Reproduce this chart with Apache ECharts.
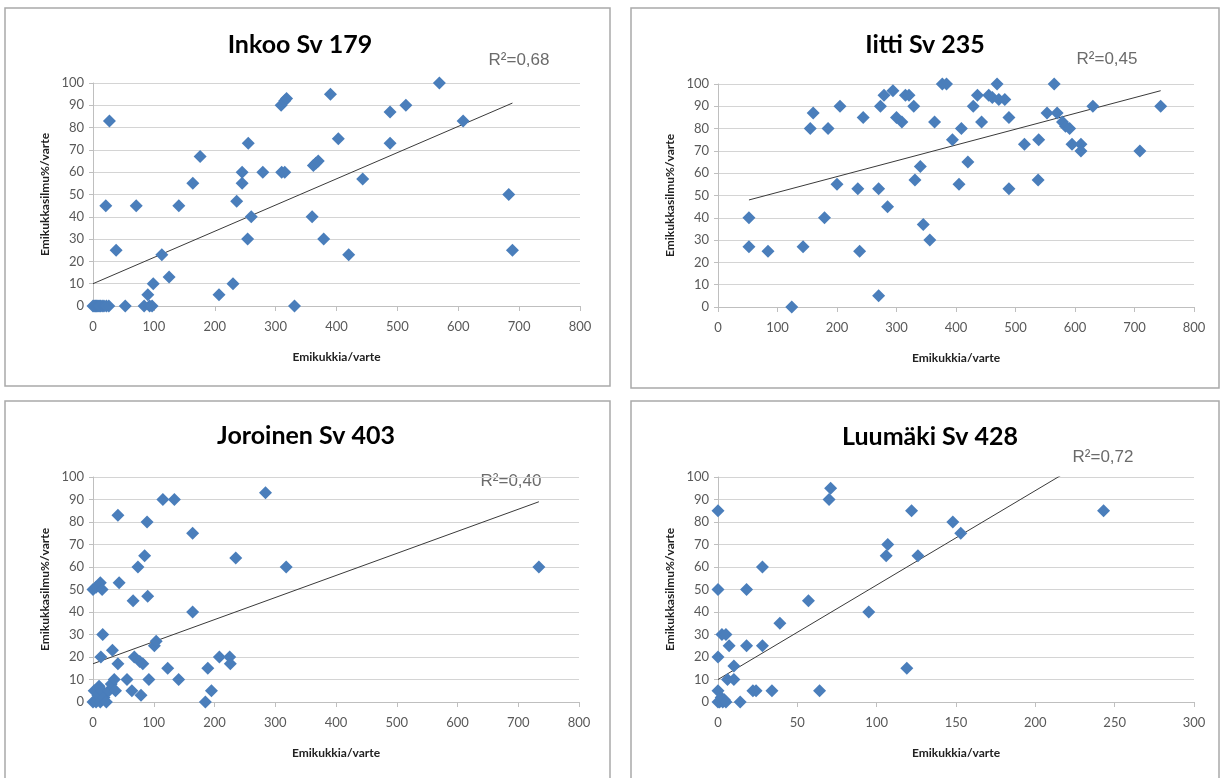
<!DOCTYPE html>
<html>
<head>
<meta charset="utf-8">
<script src="https://cdn.jsdelivr.net/npm/echarts@6/dist/echarts.min.js"></script>
<style>
  html, body { margin: 0; padding: 0; background: #fff; }
  #main { width: 1221px; height: 778px; }
</style>
</head>
<body>
<div id="main"></div>
<script>
var titles = ['Inkoo Sv 179', 'Iitti Sv 235', 'Joroinen Sv 403', 'Luumäki Sv 428']
var r2Labels = ['R²=0,68', 'R²=0,45', 'R²=0,40', 'R²=0,72']
var xName = 'Emikukkia/varte'
var yName = 'Emikukkasilmu%/varte'
var xMax = [800, 800, 800, 300]
var xStep = [100, 100, 100, 50]

// Inkoo Sv 179
var inkooPoints = [
  [0, 0], [2, 0], [4, 0], [6, 0], [8, 0], [10, 0], [12, 0], [15, 0], [18, 0], [22, 0], [26, 0],
  [21, 45], [27, 83], [38, 25], [53, 0], [71, 45], [84, 0], [90, 5], [93, 0], [97, 0], [99, 10],
  [113, 23], [125, 13], [141, 45], [164, 55], [176, 67], [207, 5], [230, 10], [236, 47],
  [245, 60], [245, 55], [255, 73], [254, 30], [260, 40], [279, 60], [309, 90], [315, 92], [318, 93],
  [310, 60], [315, 60], [331, 0], [360, 40], [362, 63], [366, 64], [370, 65], [379, 30],
  [390, 95], [403, 75], [420, 23], [443, 57], [488, 87], [488, 73], [514, 90], [569, 100],
  [608, 83], [683, 50], [689, 25]
]
var inkooTrend = [[0, 10], [689, 91]]

// Iitti Sv 235
var iittiPoints = [
  [52, 40], [52, 27], [84, 25], [124, 0], [143, 27], [155, 80], [160, 87], [179, 40], [185, 80],
  [200, 55], [205, 90], [235, 53], [238, 25], [244, 85], [270, 53], [270, 5], [273, 90], [279, 95],
  [285, 45], [294, 97], [300, 85], [309, 83], [315, 95], [321, 95], [329, 90], [331, 57], [340, 63],
  [345, 37], [356, 30], [364, 83], [377, 100], [384, 100], [394, 75], [405, 55], [409, 80], [420, 65],
  [429, 90], [436, 95], [443, 83], [455, 95], [461, 94], [469, 100], [472, 93], [482, 93], [489, 85],
  [489, 53], [515, 73], [539, 75], [538, 57], [553, 87], [565, 100], [570, 87], [579, 83], [584, 81],
  [591, 80], [595, 73], [610, 73], [610, 70], [630, 90], [709, 70], [744, 90]
]
var iittiTrend = [[52, 48], [744, 97]]

// Joroinen Sv 403
var joroinenPoints = [
  [0, 50], [5, 51], [12, 53], [15, 50], [16, 30], [13, 20], [32, 23], [41, 83], [43, 53], [41, 17],
  [0, 0], [2, 5], [5, 0], [8, 3], [10, 7], [12, 0], [15, 5], [18, 2], [22, 0], [26, 5], [30, 8],
  [35, 10], [37, 5], [56, 10], [64, 5], [66, 45], [68, 20], [74, 60], [77, 18], [79, 3], [82, 17],
  [85, 65], [89, 80], [90, 47], [92, 10], [101, 25], [104, 27], [115, 90], [123, 15], [134, 90],
  [141, 10], [164, 40], [164, 75], [185, 0], [189, 15], [195, 5], [208, 20], [225, 20], [226, 17],
  [235, 64], [284, 93], [318, 60], [734, 60]
]
var joroinenTrend = [[0, 17], [734, 89]]

// Luumäki Sv 428
var luumakiPoints = [
  [0, 85], [0, 50], [0, 20], [0, 5], [0, 0], [1, 0], [2, 2], [3, 0], [4, 1], [5, 0],
  [2.5, 30], [5, 30], [7, 25], [6, 10], [10, 16], [10, 10], [14, 0], [18, 50], [18, 25],
  [22, 5], [24, 5], [28, 60], [28, 25], [34, 5], [39, 35], [57, 45], [64, 5], [70, 90], [71, 95],
  [95, 40], [106, 65], [107, 70], [119, 15], [122, 85], [126, 65], [148, 80], [153, 75], [243, 85]
]
var luumakiTrend = [[0, 10], [243, 112]]

var allPoints = [inkooPoints, iittiPoints, joroinenPoints, luumakiPoints]
var allTrends = [inkooTrend, iittiTrend, joroinenTrend, luumakiTrend]

// layout of the four panels
var panels = [
  {box: [5, 8, 605, 378], grid: {left: 93, top: 83, width: 487, height: 223}, title: [300, 32], r2: [519, 52]},
  {box: [631, 8, 588, 380], grid: {left: 718, top: 84, width: 476, height: 223}, title: [925, 32], r2: [1107, 51]},
  {box: [5, 401, 605, 385], grid: {left: 93, top: 477, width: 486, height: 225}, title: [306, 423], r2: [511, 473]},
  {box: [631, 401, 588, 385], grid: {left: 718, top: 477, width: 476, height: 225}, title: [930, 424], r2: [1103, 449]}
]

var myChart = echarts.init(document.getElementById('main'))
var grids = [], xAxes = [], yAxes = [], series = [], graphics = []

for (var i = 0; i < 4; i++) {
  var p = panels[i]
  graphics.push({
    type: 'rect',
    shape: {x: p.box[0], y: p.box[1], width: p.box[2], height: p.box[3]},
    style: {fill: '#fff', stroke: '#a9a9a9', lineWidth: 1.5},
    z: -10
  })
  graphics.push({
    type: 'text', x: p.title[0], y: p.title[1],
    style: {text: titles[i], align: 'center', font: 'bold 25px Lato, sans-serif', fill: '#000'}
  })
  graphics.push({
    type: 'text', x: p.r2[0], y: p.r2[1],
    style: {text: r2Labels[i], align: 'center', font: '17px "Liberation Sans", Arial, sans-serif', fill: '#6b6b6b'}
  })
  grids.push(p.grid)
  xAxes.push({
    gridIndex: i, type: 'value', min: 0, max: xMax[i], interval: xStep[i],
    name: xName, nameLocation: 'middle', nameGap: 45,
    nameTextStyle: {fontFamily: 'Lato', fontWeight: 'bold', fontSize: 12, color: '#222'},
    axisLine: {lineStyle: {color: '#bfbfbf'}},
    axisTick: {show: true, length: 5, lineStyle: {color: '#bfbfbf'}},
    axisLabel: {margin: 14, fontFamily: 'Lato', fontSize: 13, color: '#595959'},
    splitLine: {show: false}
  })
  yAxes.push({
    gridIndex: i, type: 'value', min: 0, max: 100, interval: 10,
    name: yName, nameLocation: 'middle', nameGap: 42, nameRotate: 90,
    nameTextStyle: {fontFamily: 'Lato', fontWeight: 'bold', fontSize: 12, color: '#222'},
    axisLine: {show: true, lineStyle: {color: '#bfbfbf'}},
    axisTick: {show: true, length: 4, lineStyle: {color: '#bfbfbf'}},
    axisLabel: {margin: 9, fontFamily: 'Lato', fontSize: 13, color: '#595959'},
    splitLine: {show: true, lineStyle: {color: '#d4d4d4', width: 1}}
  })
  series.push({
    type: 'line', xAxisIndex: i, yAxisIndex: i,
    data: allTrends[i], showSymbol: false, symbol: 'none', clip: true,
    lineStyle: {color: '#3a3a3a', width: 1}, z: 3, silent: true, animation: false
  })
  series.push({
    type: 'scatter', xAxisIndex: i, yAxisIndex: i,
    data: allPoints[i], symbol: 'diamond', symbolSize: 13,
    itemStyle: {color: '#4a7ebb', opacity: 1}, z: 4, animation: false
  })
}

var option = {
  backgroundColor: '#fff',
  animation: false,
  grid: grids,
  xAxis: xAxes,
  yAxis: yAxes,
  series: series,
  graphic: graphics
}
myChart.setOption(option)
</script>
</body>
</html>
